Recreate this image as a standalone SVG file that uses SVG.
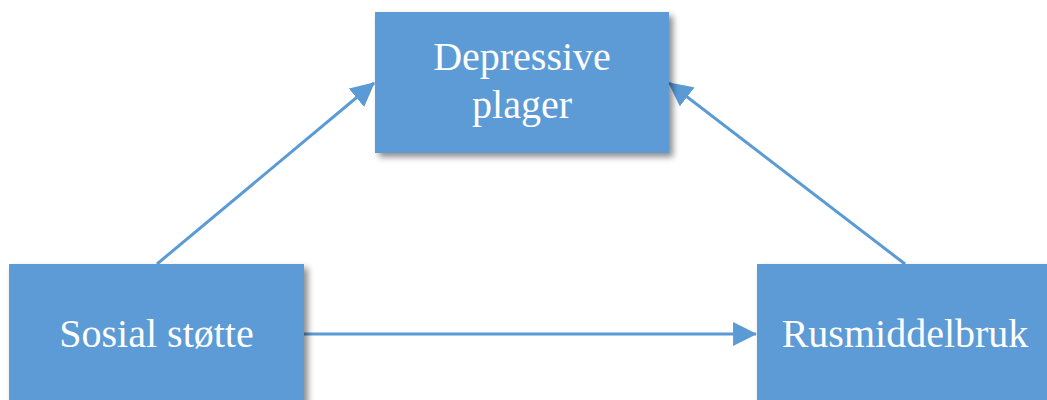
<svg xmlns="http://www.w3.org/2000/svg" width="1047" height="400" viewBox="0 0 1047 400">
  <style>
    .box { fill: #5B9BD5; filter: url(#shadow); }
    .lbl { fill: #FFFFFF; font-family: "Liberation Serif", "Times New Roman", serif; font-size: 40px; text-anchor: middle; }
    .conn { stroke: #5B9BD5; stroke-width: 3; fill: none; marker-end: url(#arrow); }
  </style>
  <defs>
    <filter id="shadow" x="-10%" y="-10%" width="130%" height="130%">
      <feDropShadow dx="4" dy="4" stdDeviation="3" flood-color="#000000" flood-opacity="0.45"/>
    </filter>
    <marker id="arrow" markerUnits="userSpaceOnUse" markerWidth="24" markerHeight="24" viewBox="0 0 22 22" refX="21" refY="11" orient="auto">
      <path d="M0,0 L22,11 L0,22 Z" fill="#5B9BD5"/>
    </marker>
  </defs>
  <rect width="1047" height="400" fill="#FFFFFF"/>
  <g id="connectors">
    <line class="conn" x1="157" y1="264" x2="374" y2="83"/>
    <line class="conn" x1="905" y1="264" x2="669" y2="83"/>
    <line class="conn" x1="304" y1="334" x2="756" y2="334"/>
  </g>
  <g id="node-depressive">
    <rect class="box" x="375" y="12" width="294" height="141"/>
    <text class="lbl" x="522" y="70">Depressive</text>
    <text class="lbl" x="522" y="118">plager</text>
  </g>
  <g id="node-sosial">
    <rect class="box" x="9" y="264" width="295" height="150"/>
    <text class="lbl" x="156.5" y="347">Sosial støtte</text>
  </g>
  <g id="node-rus">
    <rect class="box" x="757" y="264" width="295" height="150"/>
    <text class="lbl" x="905" y="347">Rusmiddelbruk</text>
  </g>
</svg>
